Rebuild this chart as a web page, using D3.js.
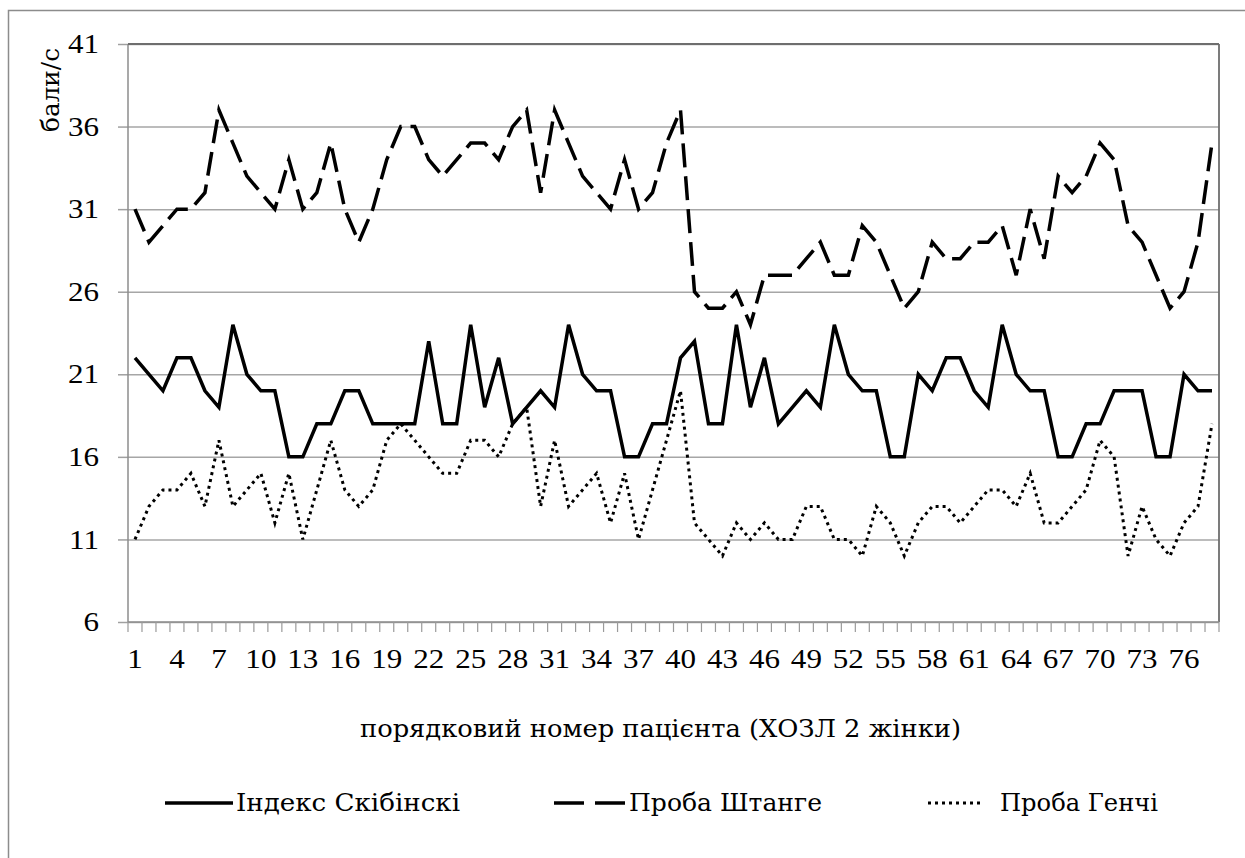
<!DOCTYPE html>
<html>
<head>
<meta charset="utf-8">
<script src="https://cdn.jsdelivr.net/npm/d3@7"></script>
<style>
  html, body { margin: 0; padding: 0; background: #fff; }
  svg { display: block; }
</style>
</head>
<body>
<svg id="chart" width="1245" height="858"></svg>
<script>
// ---- data ----
const categories = d3.range(1, 79);
const xTickLabels = ["1","4","7","10","13","16","19","22","25","28","31","34","37","40","43","46","49","52","55","58","61","64","67","70","73","76"];
const yTicks = [6, 11, 16, 21, 26, 31, 36, 41];
const seriesNames = ["Індекс Скібінскі", "Проба Штанге", "Проба Генчі"];
const skibinski = [22,21,20,22,22,20,19,24,21,20, 20,16,16,18,18,20,20,18,18,18,
                   18,23,18,18,24,19,22,18,19,20, 19,24,21,20,20,16,16,18,18,22,
                   23,18,18,24,19,22,18,19,20,19, 24,21,20,20,16,16,21,20,22,22,
                   20,19,24,21,20,20,16,16,18,18, 20,20,20,16,16,21,20,20];
const shtange   = [31,29,30,31,31,32,37,35,33,32, 31,34,31,32,35,31,29,31,34,36,
                   36,34,33,34,35,35,34,36,37,32, 37,35,33,32,31,34,31,32,35,37,
                   26,25,25,26,24,27,27,27,28,29, 27,27,30,29,27,25,26,29,28,28,
                   29,29,30,27,31,28,33,32,33,35, 34,30,29,27,25,26,29,35];
const genchi    = [11,13,14,14,15,13,17,13,14,15, 12,15,11,14,17,14,13,14,17,18,
                   17,16,15,15,17,17,16,18,19,13, 17,13,14,15,12,15,11,14,17,20,
                   12,11,10,12,11,12,11,11,13,13, 11,11,10,13,12,10,12,13,13,12,
                   13,14,14,13,15,12,12,13,14,17, 16,10,13,11,10,12,13,18];
const yTitle = "бали/с";
const xTitle = "порядковий номер пацієнта (ХОЗЛ 2 жінки)";

// ---- layout ----
const svg = d3.select("#chart");
const L = 128, R = 1219, T = 44, B = 622;
const SX = 1.15;   // horizontal stretch of digit glyphs
const FS = 27;
const FONT = "'Liberation Serif', 'Times New Roman', serif";
const FONT_CYR = "'DejaVu Serif', 'Liberation Serif', serif";

const x = d3.scaleBand().domain(categories).range([L, R]).padding(0);
const y = d3.scaleLinear().domain([6, 41]).range([B, T]);
const cx = d => x(d) + x.bandwidth() / 2;

// outer frame
svg.append("rect").attr("x", 8.5).attr("y", 10.5).attr("width", 1260).attr("height", 880)
  .attr("fill", "none").attr("stroke", "#8c8c8c").attr("stroke-width", 1.5);

// y ticks (outside)
const yAxis = d3.axisLeft(y).tickValues(yTicks).tickSize(10).tickFormat("");
const gy = svg.append("g").attr("transform", `translate(${L},0)`).call(yAxis);
gy.select(".domain").remove();
gy.selectAll(".tick line").attr("stroke", "#a0a0a0").attr("stroke-width", 1.5);

// gridlines
const grid = d3.axisLeft(y).tickValues(yTicks).tickSize(-(R - L)).tickFormat("");
const gg = svg.append("g").attr("transform", `translate(${L},0)`).call(grid);
gg.select(".domain").remove();
gg.selectAll(".tick line").attr("stroke", "#a6a6a6").attr("stroke-width", 1.5);

function txt(sel, fam) {
  return sel.attr("font-family", fam || FONT).attr("fill", "#000").attr("font-size", FS);
}

// y tick labels
txt(svg.append("g").selectAll("text").data(yTicks).join("text"))
  .attr("transform", d => `translate(99,${y(d)}) scale(${SX},1)`)
  .attr("text-anchor", "end").attr("dy", "0.34em").text(d => d);

// plot-area frame (left axis, top, right)
svg.append("line").attr("x1", L).attr("x2", L).attr("y1", T).attr("y2", B)
  .attr("stroke", "#8c8c8c").attr("stroke-width", 1.5);
svg.append("line").attr("x1", L).attr("x2", R).attr("y1", T).attr("y2", T)
  .attr("stroke", "#6e6e6e").attr("stroke-width", 1.8);
svg.append("line").attr("x1", R).attr("x2", R).attr("y1", T).attr("y2", B)
  .attr("stroke", "#6e6e6e").attr("stroke-width", 1.8);

// x axis line and ticks at category boundaries
svg.append("line").attr("x1", L).attr("x2", R).attr("y1", B).attr("y2", B)
  .attr("stroke", "#8c8c8c").attr("stroke-width", 1.5);
const bounds = categories.map(c => x(c)).concat([x(categories[categories.length - 1]) + x.bandwidth()]);
svg.append("g").selectAll("line").data(bounds).join("line")
  .attr("x1", d => d).attr("x2", d => d).attr("y1", B).attr("y2", B + 10)
  .attr("stroke", "#9a9a9a").attr("stroke-width", 1.2);

// x tick labels
txt(svg.append("g").selectAll("text").data(xTickLabels).join("text"))
  .attr("transform", d => `translate(${cx(+d)},668) scale(${SX},1)`)
  .attr("text-anchor", "middle").text(d => d);

// axis titles (widths matched to the reference)
txt(svg.append("text"), FONT_CYR).attr("transform", `translate(59,132) rotate(-90)`)
  .attr("x", 0).attr("y", 0).attr("font-size", 25)
  .attr("textLength", 84).attr("lengthAdjust", "spacingAndGlyphs").text(yTitle);
txt(svg.append("text"), FONT_CYR).attr("x", 360).attr("y", 737).attr("font-size", 25)
  .attr("textLength", 601).attr("lengthAdjust", "spacingAndGlyphs").text(xTitle);

// series
const styles = [
  { data: skibinski, dash: null, width: 3.5 },
  { data: shtange, dash: "24,9", width: 3.5 },
  { data: genchi, dash: "3,4", width: 3 }
];
const line = d3.line().x((d, i) => cx(categories[i])).y(d => y(d));
styles.forEach(s => {
  svg.append("path").datum(s.data).attr("d", line)
    .attr("fill", "none").attr("stroke", "#000").attr("stroke-width", s.width)
    .attr("stroke-linejoin", "miter").attr("stroke-dasharray", s.dash);
});

// legend
const legendItems = [
  { name: seriesNames[0], x1: 165, x2: 233, tx: 236, tl: 224, dash: null, width: 3.5 },
  { name: seriesNames[1], x1: 554, x2: 626, tx: 629, tl: 193, dash: "30,11", width: 3.5 },
  { name: seriesNames[2], x1: 928, x2: 984, tx: 1000, tl: 158, dash: "3,4", width: 3 }
];
const lg = svg.append("g");
legendItems.forEach(it => {
  lg.append("line").attr("x1", it.x1).attr("x2", it.x2).attr("y1", 803).attr("y2", 803)
    .attr("stroke", "#000").attr("stroke-width", it.width).attr("stroke-dasharray", it.dash);
  txt(lg.append("text"), FONT_CYR).attr("x", it.tx).attr("y", 811).attr("font-size", 25)
    .attr("textLength", it.tl).attr("lengthAdjust", "spacingAndGlyphs").text(it.name);
});
</script>
</body>
</html>
